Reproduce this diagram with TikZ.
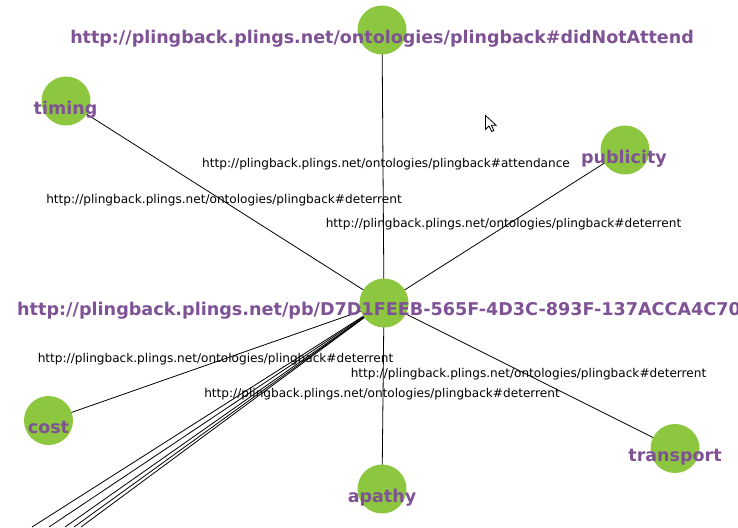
\documentclass[tikz,border=0pt]{standalone}
\usepackage{fontspec}
\setmainfont{DejaVu Sans}
\definecolor{nodegreen}{RGB}{141,198,63}
\definecolor{labelpurple}{RGB}{126,82,148}
\begin{document}
\begin{tikzpicture}[x=1pt,y=-1pt,
  vert/.style={circle,fill=nodegreen,minimum size=49pt,inner sep=0pt},
  vlabel/.style={anchor=base,text=labelpurple,font=\fontsize{17.5}{20}\selectfont\bfseries,inner sep=0pt},
  elabel/.style={anchor=center,font=\fontsize{12.1}{14}\selectfont,inner sep=0pt},
  edge/.style={draw=black,line width=0.8pt}]
\useasboundingbox (0,0) rectangle (738,527);
\clip (0,0) rectangle (738,527);
% vertex positions
\coordinate (cC) at (384,303);
\coordinate (cD) at (382,30);
\coordinate (cT) at (66,101);
\coordinate (cP) at (625,150);
\coordinate (cK) at (48.5,420.5);
\coordinate (cA) at (382,489);
\coordinate (cR) at (675,448.5);
\coordinate (o1) at (32,527);
\coordinate (o2) at (49,527);
\coordinate (o3) at (65,527);
\coordinate (o4) at (74,527);
\coordinate (o5) at (81,527);
% edges
\foreach \t in {cD,cT,cP,cK,cA,cR,o1,o2,o3,o4,o5}
  \draw[edge] (cC) -- (\t);
% vertices
\node[vert] (C) at (cC) {};
\node[vert] (D) at (cD) {};
\node[vert] (T) at (cT) {};
\node[vert] (P) at (cP) {};
\node[vert] (K) at (cK) {};
\node[vert] (A) at (cA) {};
\node[vert] (R) at (cR) {};
% vertex labels
\node[vlabel] (Dl) at (382,44) {http://plingback.plings.net/ontologies/plingback\#didNotAttend};
\node[vlabel] (Tl) at (65.5,114) {timing};
\node[vlabel] (Pl) at (624,163.5) {publicity};
\node[vlabel] (Kl) at (48.5,433) {cost};
\node[vlabel] (Al) at (382,502.5) {apathy};
\node[vlabel] (Rl) at (675,461) {transport};
\node[vlabel,anchor=base west,font=\fontsize{17.6}{20}\selectfont\bfseries] (Cl) at (17,315) {http://plingback.plings.net/pb/D7D1FEEB-565F-4D3C-893F-137ACCA4C70};
% edge labels
\node[elabel] (e1) at (386,164) {http://plingback.plings.net/ontologies/plingback\#attendance};
\node[elabel] (e2) at (224,200) {http://plingback.plings.net/ontologies/plingback\#deterrent};
\node[elabel] (e3) at (503.5,224) {http://plingback.plings.net/ontologies/plingback\#deterrent};
\node[elabel] (e4) at (215.5,359) {http://plingback.plings.net/ontologies/plingback\#deterrent};
\node[elabel] (e5) at (528.5,374) {http://plingback.plings.net/ontologies/plingback\#deterrent};
\node[elabel] (e6) at (382,394) {http://plingback.plings.net/ontologies/plingback\#deterrent};
% mouse cursor
\draw[fill=white,line width=0.8pt,line join=miter]
  (485.5,115.5) -- ++(0,14) -- ++(3.5,-3.5) -- ++(2.7,5.5) -- ++(2.2,-1) -- ++(-2.6,-5.3) -- ++(4.8,0) -- cycle;
\end{tikzpicture}
\end{document}
